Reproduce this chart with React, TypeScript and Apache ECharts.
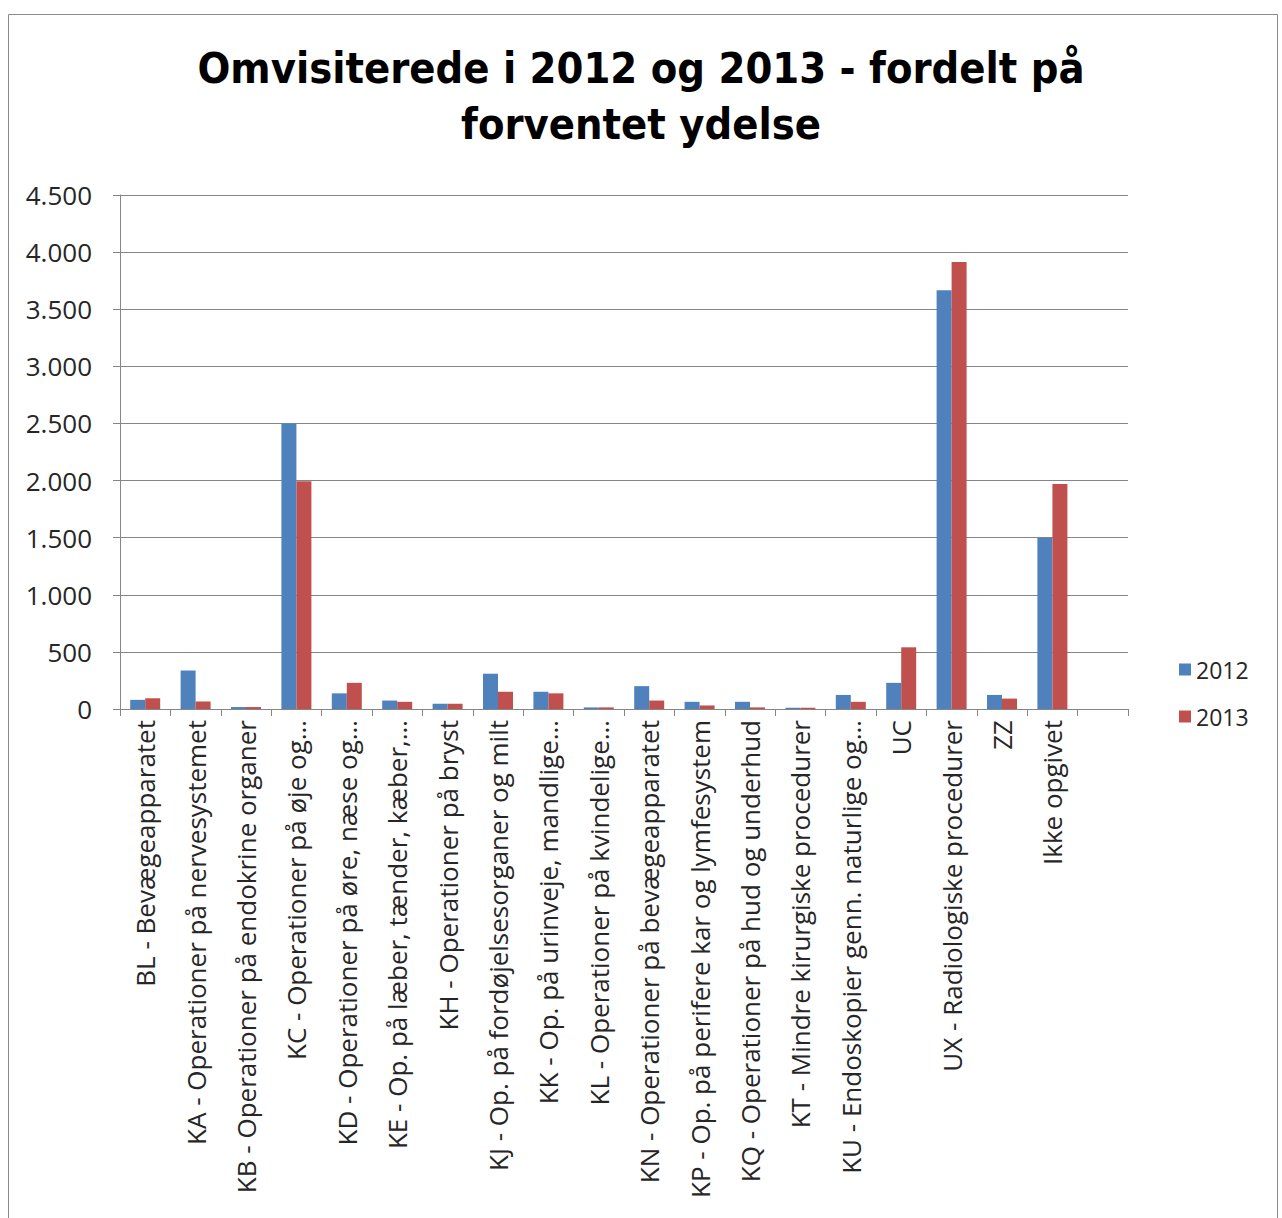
import React, { useEffect, useRef } from "react";
import * as echarts from "echarts";

const categories = [
  "BL - Bevægeapparatet",
  "KA - Operationer på nervesystemet",
  "KB - Operationer på endokrine organer",
  "KC - Operationer på øje og…",
  "KD - Operationer på øre, næse og…",
  "KE - Op. på læber, tænder, kæber,…",
  "KH - Operationer på bryst",
  "KJ - Op. på fordøjelsesorganer og milt",
  "KK - Op. på urinveje, mandlige…",
  "KL - Operationer på kvindelige…",
  "KN - Operationer på bevægeapparatet",
  "KP - Op. på perifere kar og lymfesystem",
  "KQ - Operationer på hud og underhud",
  "KT - Mindre kirurgiske procedurer",
  "KU - Endoskopier genn. naturlige og…",
  "UC",
  "UX - Radiologiske procedurer",
  "ZZ",
  "Ikke opgivet",
  "",
];

const values2012 = [80, 337, 17, 2500, 137, 74, 46, 309, 151, 14, 200, 63, 63, 11, 123, 229, 3666, 123, 1500, null];
const values2013 = [94, 66, 17, 1995, 229, 63, 46, 151, 137, 14, 74, 31, 14, 11, 63, 540, 3913, 91, 1970, null];

const yTicks = { min: 0, max: 4500, interval: 500 };

const fmt = (v: number) =>
  v >= 1000 ? `${Math.floor(v / 1000)}.${String(v % 1000).padStart(3, "0")}` : String(v);

export default function App() {
  const ref = useRef<HTMLDivElement>(null);
  useEffect(() => {
    if (!ref.current) return;
    const chart = echarts.init(ref.current, undefined, { renderer: "svg" });
    const labelFont = "'Open Sans', 'DejaVu Sans', sans-serif";
    chart.setOption({
      animation: false,
      backgroundColor: "#ffffff",
      title: {
        text: "Omvisiterede i 2012 og 2013 - fordelt på\nforventet ydelse",
        left: "center",
        top: 35,
        textStyle: {
          fontFamily: "'DejaVu Sans Condensed', 'Open Sans', sans-serif",
          fontWeight: "bold",
          fontSize: 43,
          lineHeight: 56,
          color: "#000000",
        },
      },
      graphic: [
        {
          type: "rect",
          shape: { x: 8.5, y: 14.5, width: 1269, height: 1230 },
          style: { fill: "none", stroke: "#8a8a8a", lineWidth: 1 },
          silent: true,
        },
      ],
      legend: {
        orient: "vertical",
        left: 1174,
        top: 653,
        itemWidth: 12,
        itemHeight: 12,
        itemGap: 24,
        icon: "rect",
        textStyle: { fontFamily: labelFont, fontSize: 23, color: "#262626" },
        data: ["2012", "2013"],
      },
      grid: { left: 120, right: 154, top: 195, bottom: 509, containLabel: false },
      xAxis: {
        type: "category",
        data: categories,
        axisLine: { lineStyle: { color: "#868686", width: 1 } },
        axisTick: { show: true, length: 7, lineStyle: { color: "#868686" } },
        axisLabel: {
          interval: 0,
          rotate: 90,
          margin: 11,
          fontFamily: labelFont,
          fontSize: 26,
          color: "#262626",
        },
      },
      yAxis: {
        type: "value",
        min: yTicks.min,
        max: yTicks.max,
        interval: yTicks.interval,
        axisLine: { show: true, lineStyle: { color: "#868686", width: 1 } },
        axisTick: { show: true, length: 7, lineStyle: { color: "#868686" } },
        splitLine: { show: true, lineStyle: { color: "#868686", width: 1 } },
        axisLabel: {
          margin: 28,
          fontFamily: labelFont,
          fontSize: 26,
          color: "#262626",
          formatter: (v: number) => fmt(v),
        },
      },
      series: [
        {
          name: "2012",
          type: "bar",
          data: values2012,
          barWidth: 15,
          barGap: "0%",
          itemStyle: { color: "#4F81BD" },
        },
        {
          name: "2013",
          type: "bar",
          data: values2013,
          barWidth: 15,
          barGap: "0%",
          itemStyle: { color: "#C0504D" },
        },
      ],
    });
    return () => chart.dispose();
  }, []);
  return (
    <div
      ref={ref}
      style={{ position: "absolute", left: 0, top: 0, width: 1282, height: 1218 }}
    />
  );
}
